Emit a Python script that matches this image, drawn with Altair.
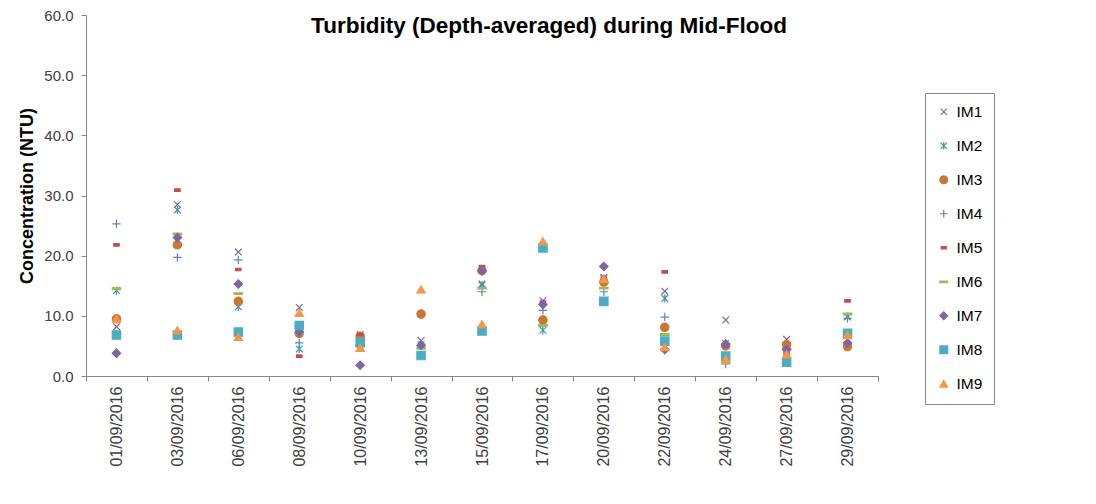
import altair as alt
import pandas as pd

dates = ["01/09/2016", "03/09/2016", "06/09/2016", "08/09/2016", "10/09/2016",
         "13/09/2016", "15/09/2016", "17/09/2016", "20/09/2016", "22/09/2016",
         "24/09/2016", "27/09/2016", "29/09/2016"]

series_names = ["IM1", "IM2", "IM3", "IM4", "IM5", "IM6", "IM7", "IM8", "IM9"]

im1 = [8.2, 28.5, 20.6, 11.4, 6.9, 5.9, 15.3, 12.5, 16.4, 14.1, 9.3, 6.1, 9.8]
im2 = [14.2, 27.6, 11.5, 4.5, 5.2, 5.2, 15.1, 7.6, 16.2, 12.9, 5.4, 4.5, 9.9]
im3 = [9.5, 21.8, 12.4, 7.1, 6.6, 10.3, 17.5, 9.3, 15.6, 8.1, 5.0, 5.2, 4.9]
im4 = [25.3, 19.7, 19.3, 5.5, 5.0, 5.0, 14.0, 10.9, 14.0, 9.8, 2.0, 4.4, 9.6]
im5 = [21.8, 30.9, 17.7, 3.3, 6.9, 4.9, 18.2, 12.3, 16.2, 17.3, 5.0, 3.6, 12.5]
im6 = [14.5, 23.6, 13.7, 7.0, 5.0, 4.6, 14.6, 8.4, 14.6, 6.9, 2.2, 4.5, 10.3]
im7 = [3.8, 23.0, 15.3, 7.3, 1.8, 5.1, 17.5, 11.9, 18.2, 4.4, 5.3, 4.4, 5.5]
im8 = [6.8, 6.8, 7.3, 8.4, 5.6, 3.4, 7.5, 21.3, 12.4, 5.8, 3.3, 2.3, 7.1]
im9 = [9.5, 7.6, 6.5, 10.5, 4.7, 14.4, 8.6, 22.4, 16.1, 4.8, 2.8, 3.6, 6.8]

all_values = [im1, im2, im3, im4, im5, im6, im7, im8, im9]

rows = []
for name, vals in zip(series_names, all_values):
    for d, v in zip(dates, vals):
        rows.append({"Date": d, "Series": name, "Value": v})
df = pd.DataFrame(rows)

X_SHAPE = "M-0.8,-0.8L0.8,0.8M-0.8,0.8L0.8,-0.8"
AST_SHAPE = "M-0.8,-0.8L0.8,0.8M-0.8,0.8L0.8,-0.8M0,-1L0,1"
PLUS_SHAPE = "M-1,0L1,0M0,-1L0,1"
DASH_SHAPE = "M-0.65,-0.3L0.65,-0.3L0.65,0.3L-0.65,0.3Z"
BAR_SHAPE = "M-1,-0.2L1,-0.2L1,0.2L-1,0.2Z"

shapes = [X_SHAPE, AST_SHAPE, "circle", PLUS_SHAPE, DASH_SHAPE, BAR_SHAPE,
          "diamond", "square", "triangle-up"]
colors = ["#7D68A0", "#3E97B0", "#CB7633", "#5B85C1", "#C0504D", "#9BBB59",
          "#8064A2", "#4BACC6", "#F79646"]

FONT = "Liberation Sans"

legend = alt.Legend(
    title=None, orient="none", legendX=839, legendY=78,
    strokeColor="#888888", padding=11, rowPadding=17,
    labelFont=FONT, labelFontSize=15.5, labelColor="#000000",
    labelOffset=5, symbolSize=60, symbolStrokeWidth=1.2,
)

chart = alt.Chart(df).mark_point(size=70, strokeWidth=1.2, opacity=1).encode(
    x=alt.X("Date:N", sort=dates,
            scale=alt.Scale(type="band", paddingInner=0, paddingOuter=0),
            axis=alt.Axis(title=None, labelAngle=-90, labelAlign="right",
                          labelBaseline="middle", labelFont=FONT, labelFontSize=16,
                          labelColor="#404040", labelPadding=5, tickBand="extent",
                          tickSize=5, tickColor="#868686", domainColor="#868686",
                          grid=False)),
    y=alt.Y("Value:Q", scale=alt.Scale(domain=[0, 60], nice=False),
            axis=alt.Axis(title="Concentration (NTU)", values=[0, 10, 20, 30, 40, 50, 60],
                          format=".1f", labelFont=FONT, labelFontSize=15,
                          labelColor="#404040", tickSize=5, tickColor="#868686",
                          domainColor="#868686", labelPadding=8, grid=False,
                          titleFont=FONT, titleFontSize=18, titleFontWeight="bold",
                          titleColor="#000000", titlePadding=7)),
    shape=alt.Shape("Series:N", scale=alt.Scale(domain=series_names, range=shapes),
                    legend=legend),
    fill=alt.Fill("Series:N", scale=alt.Scale(domain=series_names, range=colors),
                  legend=legend),
    stroke=alt.Stroke("Series:N", scale=alt.Scale(domain=series_names, range=colors),
                      legend=legend),
).properties(
    width=792, height=361,
    title=alt.TitleParams("Turbidity (Depth-averaged) during Mid-Flood",
                          font=FONT, fontSize=22.5, fontWeight="bold", color="#000000",
                          anchor="middle", frame="group", dx=67, offset=-29),
    autosize=alt.AutoSizeParams(type="none"),
    padding={"left": 78, "top": 7, "right": 202, "bottom": 112},
).configure_view(stroke=None)

chart.save("out.html", embed_options={"renderer": "svg", "actions": False})
